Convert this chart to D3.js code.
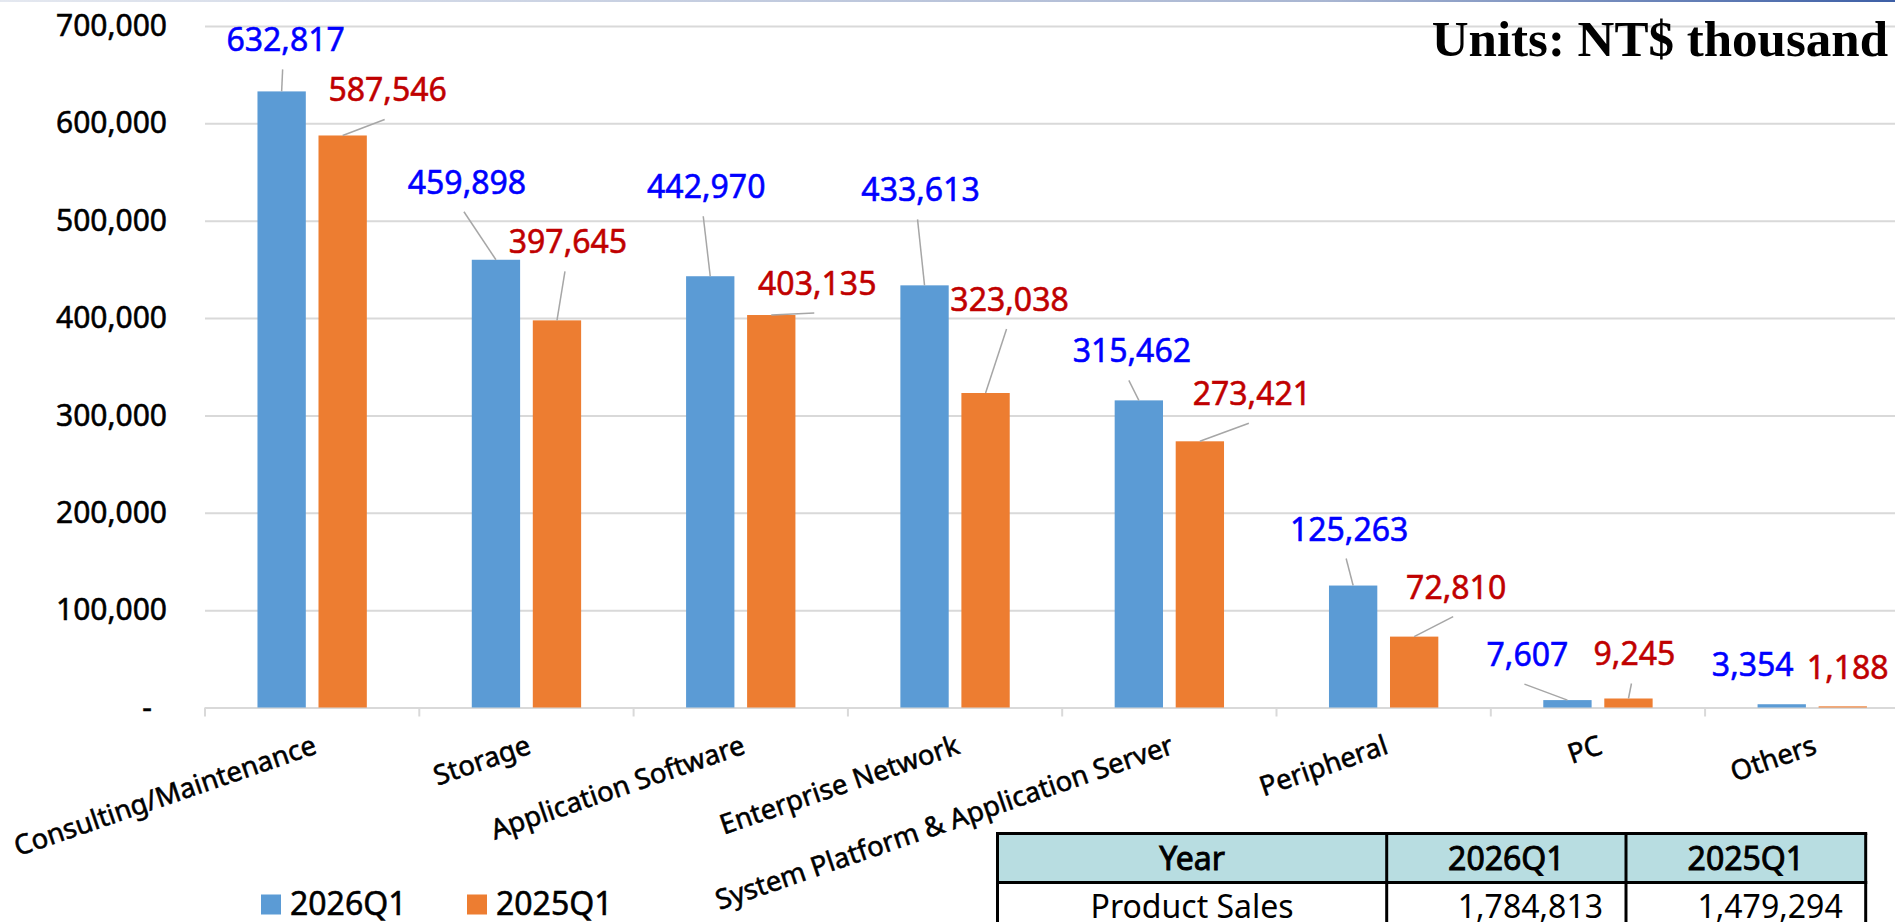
<!DOCTYPE html>
<html>
<head>
<meta charset="utf-8">
<script src="https://cdn.jsdelivr.net/npm/d3@7"></script>
<style>
  html, body { margin: 0; padding: 0; background: #fff; overflow: hidden; }
  svg { display: block; }
  text { font-family: "Noto Sans", sans-serif; }
  /* the slide font is a touch heavier than Noto Sans regular */
  text.heavy { stroke-width: 0.55px; paint-order: stroke; }
</style>
</head>
<body>
<div id="chart"></div>
<script>
// chart values
var categories = ["Consulting/Maintenance", "Storage", "Application Software", "Enterprise Network",
  "System Platform & Application Server", "Peripheral", "PC", "Others"];
var seriesNames = ["2026Q1", "2025Q1"];
var sales2026Q1 = [632817, 459898, 442970, 433613, 315462, 125263, 7607, 3354];
var sales2025Q1 = [587546, 397645, 403135, 323038, 273421, 72810, 9245, 1188];
var yTicks = [0, 100000, 200000, 300000, 400000, 500000, 600000, 700000];

var tableHeader = ["Year", "2026Q1", "2025Q1"];
var tableRowLabels = ["Product Sales"];
var tableTotals2026Q1 = [1784813];
var tableTotals2025Q1 = [1479294];

var unitsText = "Units: NT$ thousand";

// hand-placed data labels: nudge in px from the top centre of each bar
var nudge2026 = [[4, -40], [-29, -66], [-4, -78], [-4, -84], [-7, -38], [-4, -45], [-40, -34], [-29, -28]];
var nudge2025 = [[45, -34], [11, -67], [46, -20], [24, -82], [52, -36], [42, -38], [6, -33], [5, -27]];
var noLeader = ["Others"];

(function () {
  var width = 1895, height = 922;
  var colors = { "2026Q1": "#5B9BD5", "2025Q1": "#ED7D31" };
  var labelColors = { "2026Q1": "#0000FF", "2025Q1": "#C00000" };

  var svg = d3.select("#chart").append("svg")
    .attr("width", width)
    .attr("height", height);

  // thin slide border along the top
  var grad = svg.append("defs").append("linearGradient")
    .attr("id", "topStrip");
  grad.append("stop").attr("offset", "0%").attr("stop-color", "#e4e8f0");
  grad.append("stop").attr("offset", "70%").attr("stop-color", "#a9b6d2");
  grad.append("stop").attr("offset", "100%").attr("stop-color", "#3d5fa6");
  svg.append("rect")
    .attr("x", 0).attr("y", 0)
    .attr("width", width).attr("height", 2)
    .attr("fill", "url(#topStrip)");

  var plotLeft = 205, plotRight = 1919.4;

  var x0 = d3.scaleBand()
    .domain(categories)
    .range([plotLeft, plotRight]);

  var x1 = d3.scaleBand()
    .domain(seriesNames)
    .range([0, x0.bandwidth()])
    .paddingInner(0.208)
    .paddingOuter(0.86);

  var y = d3.scaleLinear()
    .domain([0, 700000])
    .range([707.5, 26]);

  // gridlines + y labels
  var yAxis = svg.append("g")
    .attr("transform", "translate(" + plotLeft + ",0)")
    .call(d3.axisLeft(y)
      .tickValues(yTicks)
      .tickSize(-(plotRight - plotLeft))
      .tickPadding(38)
      .tickFormat(function (d) { return d === 0 ? "-" : d3.format(",")(d); }));
  yAxis.select(".domain").remove();
  yAxis.selectAll(".tick line")
    .attr("stroke", "#d9d9d9")
    .attr("stroke-width", 2);
  yAxis.selectAll(".tick text")
    .attr("class", "heavy")
    .attr("fill", "#000")
    .attr("stroke", "#000")
    .style("font-size", "30px")
    .style("font-family", "'Noto Sans', sans-serif")
    .attr("dx", function (d) { return d === 0 ? -15 : 0; });

  // category ticks on the axis, at band edges
  var edges = categories.map(function (c) { return x0(c); }).concat([x0.range()[1]]);
  svg.append("g").selectAll("line")
    .data(edges)
    .enter().append("line")
    .attr("x1", function (d) { return d; })
    .attr("x2", function (d) { return d; })
    .attr("y1", y(0))
    .attr("y2", y(0) + 9)
    .attr("stroke", "#d9d9d9")
    .attr("stroke-width", 2);

  // category labels
  svg.append("g").selectAll("text")
    .data(categories)
    .enter().append("text")
    .attr("class", "heavy")
    .attr("text-anchor", "end")
    .attr("transform", function (d) {
      var cx = x0(d) + x0.bandwidth() / 2 + 6;
      return "translate(" + cx + ",753) rotate(-19)";
    })
    .style("font-size", "27.5px")
    .attr("fill", "#000")
    .attr("stroke", "#000")
    .text(function (d) { return d; });

  // bars
  var rows = [];
  categories.forEach(function (c, i) {
    rows.push({ cat: c, series: "2026Q1", value: sales2026Q1[i], nudge: nudge2026[i] });
    rows.push({ cat: c, series: "2025Q1", value: sales2025Q1[i], nudge: nudge2025[i] });
  });
  rows.forEach(function (d) {
    d.cx = x0(d.cat) + x1(d.series) + x1.bandwidth() / 2;
    d.top = y(d.value);
    d.lx = d.cx + d.nudge[0];
    d.ly = d.top + d.nudge[1];
  });

  svg.append("g").selectAll("rect")
    .data(rows)
    .enter().append("rect")
    .attr("x", function (d) { return x0(d.cat) + x1(d.series); })
    .attr("y", function (d) { return y(d.value); })
    .attr("width", x1.bandwidth())
    .attr("height", function (d) { return y(0) - y(d.value); })
    .attr("fill", function (d) { return colors[d.series]; });

  // leader lines
  svg.append("g").selectAll("line")
    .data(rows.filter(function (d) { return noLeader.indexOf(d.cat) < 0; }))
    .enter().append("line")
    .attr("x1", function (d) { return d.lx - 3; })
    .attr("y1", function (d) { return Math.min(d.ly + 18, d.top - 2); })
    .attr("x2", function (d) { return d.cx; })
    .attr("y2", function (d) { return d.top; })
    .attr("stroke", "#a6a6a6")
    .attr("stroke-width", 1.5);

  // data labels
  svg.append("g").selectAll("text")
    .data(rows)
    .enter().append("text")
    .attr("class", "heavy")
    .attr("x", function (d) { return d.lx; })
    .attr("y", function (d) { return d.ly; })
    .attr("text-anchor", "middle")
    .style("font-size", "32px")
    .attr("fill", function (d) { return labelColors[d.series]; })
    .attr("stroke", function (d) { return labelColors[d.series]; })
    .text(function (d) { return d3.format(",")(d.value); });

  // units note
  svg.append("text")
    .attr("x", 1888)
    .attr("y", 56)
    .attr("text-anchor", "end")
    .style("font-family", "'Liberation Serif', serif")
    .style("font-weight", "bold")
    .style("font-size", "51px")
    .attr("fill", "#000")
    .text(unitsText);

  // legend
  var legend = svg.append("g").selectAll("g")
    .data(seriesNames)
    .enter().append("g")
    .attr("transform", function (d, i) { return "translate(" + (261 + i * 206) + ",894.5)"; });
  legend.append("rect")
    .attr("width", 20).attr("height", 20)
    .attr("fill", function (d) { return colors[d]; });
  legend.append("text")
    .attr("class", "heavy")
    .attr("x", 29).attr("y", 20)
    .style("font-size", "32px")
    .attr("fill", "#000")
    .attr("stroke", "#000")
    .text(function (d) { return d; });

  // summary table
  var colX = [997.5, 1386.7, 1626, 1865.7];
  var rowY = [833.5, 882.5, 931.5];
  var table = svg.append("g");
  table.append("rect")
    .attr("x", colX[0]).attr("y", rowY[0])
    .attr("width", colX[3] - colX[0]).attr("height", rowY[1] - rowY[0])
    .attr("fill", "#b8dde1");
  table.selectAll("text.head")
    .data(tableHeader)
    .enter().append("text")
    .attr("class", "head heavy")
    .attr("x", function (d, i) { return (colX[i] + colX[i + 1]) / 2; })
    .attr("y", rowY[0] + 36)
    .attr("text-anchor", "middle")
    .style("font-size", "32px")
    .attr("fill", "#000")
    .attr("stroke", "#000")
    .style("stroke-width", "0.9px")
    .text(function (d) { return d; });

  var bodyRows = tableRowLabels.map(function (l, i) {
    return [l, tableTotals2026Q1[i], tableTotals2025Q1[i]];
  });
  bodyRows.forEach(function (r, ri) {
    var by = rowY[ri + 1] + 35;
    table.append("text")
      .attr("x", (colX[0] + colX[1]) / 2).attr("y", by)
      .attr("text-anchor", "middle")
      .style("font-size", "32px")
      .text(r[0]);
    [r[1], r[2]].forEach(function (v, j) {
      table.append("text")
        .attr("x", colX[j + 2] - 23).attr("y", by)
        .attr("text-anchor", "end")
        .style("font-size", "32px")
        .text(d3.format(",")(v));
    });
  });

  // borders
  rowY.forEach(function (ry) {
    table.append("line")
      .attr("x1", colX[0] - 1.5).attr("x2", colX[3] + 1.5)
      .attr("y1", ry).attr("y2", ry)
      .attr("stroke", "#000").attr("stroke-width", 3);
  });
  colX.forEach(function (cx) {
    table.append("line")
      .attr("x1", cx).attr("x2", cx)
      .attr("y1", rowY[0]).attr("y2", rowY[2])
      .attr("stroke", "#000").attr("stroke-width", 3);
  });
})();
</script>
</body>
</html>
